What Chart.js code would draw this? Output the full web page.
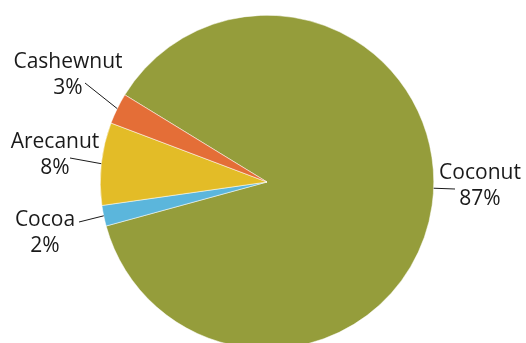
<!DOCTYPE html>
<html>
<head>
<meta charset="utf-8">
<script src="https://cdn.jsdelivr.net/npm/chart.js@4/dist/chart.umd.min.js"></script>
<style>
  html, body { margin: 0; padding: 0; background: #fff; overflow: hidden; }
  #wrap { width: 526px; height: 370px; }
</style>
</head>
<body>
<div id="wrap"><canvas id="pie"></canvas></div>
<script>
const crops = ['Coconut', 'Cocoa', 'Arecanut', 'Cashewnut'];
const shares = [87, 2, 8, 3];
const sliceColors = ['#959d3b', '#5bb6dc', '#e3bc27', '#e46e37'];

// where each label sits and where its leader starts
const labelSpots = {
  Coconut:   { x: 480, y: 179, lx: 455, ly: 189, toward: 'nearest' },
  Cocoa:     { x: 45,  y: 226, lx: 79,  ly: 222, toward: 'mid' },
  Arecanut:  { x: 55,  y: 148, lx: 70,  ly: 158, toward: 'mid' },
  Cashewnut: { x: 68,  y: 68,  lx: 85,  ly: 83,  toward: 'mid' }
};

const outsideLabels = {
  id: 'outsideLabels',
  afterDraw(chart) {
    const ctx = chart.ctx;
    const arcs = chart.getDatasetMeta(0).data;
    ctx.save();
    ctx.font = '21px "Open Sans"';
    ctx.fillStyle = '#1a1a1a';
    ctx.textAlign = 'center';
    ctx.textBaseline = 'alphabetic';
    arcs.forEach((arc, i) => {
      const spot = labelSpots[crops[i]];
      const p = arc.getProps(['x', 'y', 'startAngle', 'endAngle', 'outerRadius'], true);
      let a = (p.startAngle + p.endAngle) / 2;
      if (spot.toward === 'nearest') a = Math.atan2(spot.ly - p.y, spot.lx - p.x);
      ctx.strokeStyle = '#1a1a1a';
      ctx.lineWidth = 1;
      ctx.beginPath();
      ctx.moveTo(spot.lx, spot.ly);
      ctx.lineTo(p.x + Math.cos(a) * p.outerRadius, p.y + Math.sin(a) * p.outerRadius);
      ctx.stroke();
      ctx.fillText(crops[i], spot.x, spot.y);
      ctx.fillText(shares[i] + '%', spot.x, spot.y + 26);
    });
    ctx.restore();
  }
};

new Chart(document.getElementById('pie'), {
  type: 'pie',
  data: {
    labels: crops,
    datasets: [{
      data: shares,
      backgroundColor: sliceColors,
      borderColor: '#ffffff',
      borderWidth: 0.5
    }]
  },
  options: {
    responsive: true,
    maintainAspectRatio: false,
    animation: false,
    rotation: 301.5,
    layout: { padding: { left: 100, right: 92, top: 15, bottom: 21 } },
    plugins: {
      legend: { display: false },
      tooltip: { enabled: false }
    }
  },
  plugins: [outsideLabels]
});
</script>
</body>
</html>
